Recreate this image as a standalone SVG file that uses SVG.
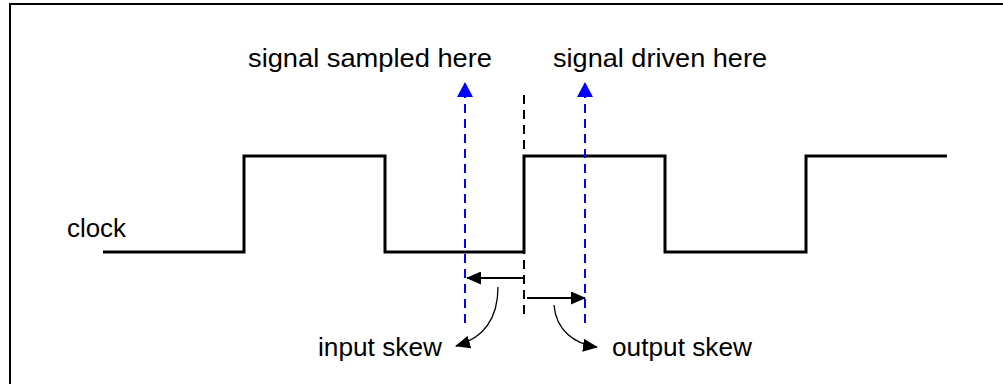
<svg xmlns="http://www.w3.org/2000/svg" width="1003" height="384" viewBox="0 0 1003 384">
<style>
.lbl{font-family:"Liberation Sans",Arial,sans-serif;font-size:25px;fill:#000}
.blue{stroke:#0000ff;stroke-width:2;stroke-dasharray:9,6;fill:none}
.bdash{stroke:#000;stroke-width:2;stroke-dasharray:9,6;fill:none}
.arr{stroke:#000;stroke-width:2;fill:none}
.thin{stroke:#000;stroke-width:1.3;fill:none}
</style>
<defs>
<marker id="ah" viewBox="0 0 15 13" refX="14" refY="6.5" markerWidth="15" markerHeight="13" markerUnits="userSpaceOnUse" orient="auto">
<path d="M0,0 L15,6.5 L0,13 z" fill="#000"/>
</marker>
</defs>
<rect x="0" y="0" width="1003" height="384" fill="#fff"/>
<path d="M10,400 V4 H1010" fill="none" stroke="#000" stroke-width="2"/>
<g id="clock">
<path d="M103,252 H244 V156 H385 V252 H524 V156 H665 V252 H806 V156 H947" fill="none" stroke="#000" stroke-width="3"/>
<text class="lbl" x="67" y="237" textLength="59" lengthAdjust="spacingAndGlyphs">clock</text>
</g>
<g id="sampled">
<text class="lbl" x="248" y="67" textLength="244" lengthAdjust="spacingAndGlyphs">signal sampled here</text>
</g>
<g id="driven">
<text class="lbl" x="553" y="67" textLength="214" lengthAdjust="spacingAndGlyphs">signal driven here</text>
</g>
<g id="input-skew">
<text class="lbl" x="318" y="356" textLength="124" lengthAdjust="spacingAndGlyphs">input skew</text>
</g>
<g id="output-skew">
<text class="lbl" x="612" y="356" textLength="140" lengthAdjust="spacingAndGlyphs">output skew</text>
</g>
<g id="connectors">
<line class="blue" x1="465" y1="323" x2="465" y2="96"/>
<path d="M465,82 L473,97 L457,97 z" fill="#0000ff"/>
<line class="blue" x1="585" y1="323" x2="585" y2="96"/>
<path d="M585,82 L593,97 L577,97 z" fill="#0000ff"/>
<line class="bdash" x1="524" y1="95" x2="524" y2="316"/>
<line class="arr" x1="524" y1="278" x2="467" y2="278" marker-end="url(#ah)"/>
<line class="arr" x1="527" y1="298" x2="585" y2="298" marker-end="url(#ah)"/>
<path class="thin" d="M498,287 C498,318 484,338 456,346" marker-end="url(#ah)"/>
<path class="thin" d="M554,305 C556,330 574,344 597,347" marker-end="url(#ah)"/>
</g>
</svg>
